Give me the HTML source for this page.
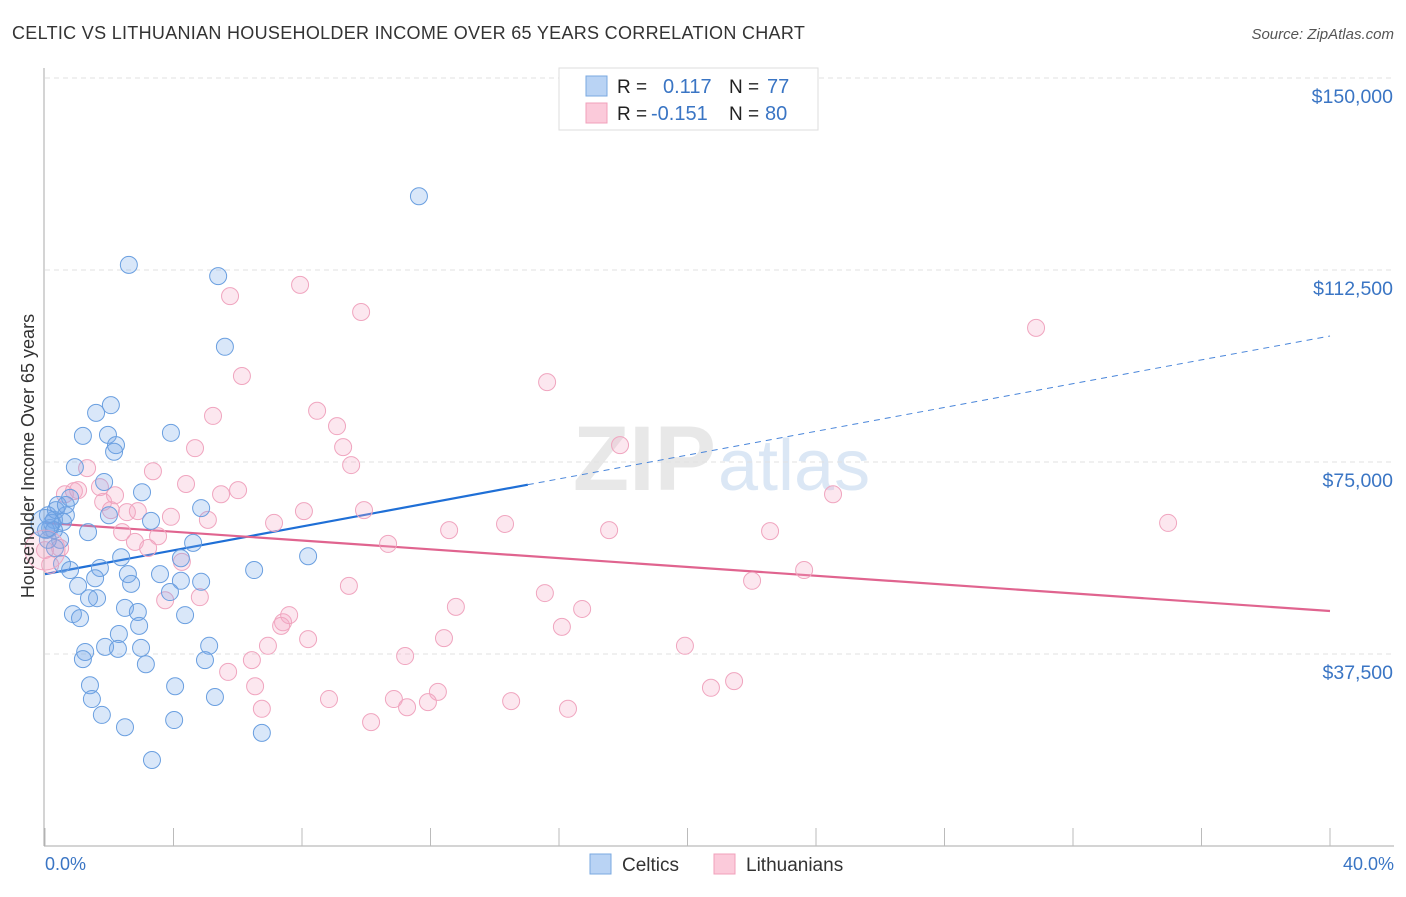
<!DOCTYPE html>
<html><head><meta charset="utf-8"><style>
body{margin:0;background:#fff;font-family:"Liberation Sans",sans-serif;}
svg text{font-family:"Liberation Sans",sans-serif;}
</style></head><body>
<svg id="chart" width="1406" height="892" xmlns="http://www.w3.org/2000/svg">
<text x="12" y="39" font-size="18" fill="#333" letter-spacing="0.3">CELTIC VS LITHUANIAN HOUSEHOLDER INCOME OVER 65 YEARS CORRELATION CHART</text>
<text x="1394" y="39" font-size="15" fill="#555" font-style="italic" text-anchor="end">Source: ZipAtlas.com</text>
<text x="716" y="490" font-size="92" fill="#e8e8e8" text-anchor="end" font-family="Liberation Serif" font-weight="bold">ZIP</text>
<text x="718" y="490" font-size="72" fill="#dbe7f5">atlas</text>
<g id="grid"></g><g id="axes"></g><g id="lines"></g><g id="points"></g>
<text transform="translate(34,456) rotate(-90)" font-size="18" fill="#333" text-anchor="middle">Householder Income Over 65 years</text>
<text x="45" y="870" font-size="18" fill="#3a75c4">0.0%</text>
<text x="1394" y="870" font-size="18" fill="#3a75c4" text-anchor="end">40.0%</text>
<g>
<rect x="559" y="68" width="259" height="62" fill="#fff" stroke="#ddd"/>
<rect x="586" y="76" width="21" height="20" fill="#b9d3f4" stroke="#7aa8e0"/>
<rect x="586" y="103" width="21" height="20" fill="#fbcada" stroke="#f0a0bb"/>
<text x="617" y="93" font-size="19" fill="#222">R =</text><text x="663" y="93" font-size="20" fill="#3a75c4">0.117</text>
<text x="729" y="93" font-size="19" fill="#222">N =</text><text x="767" y="93" font-size="20" fill="#3a75c4">77</text>
<text x="617" y="120" font-size="19" fill="#222">R =</text><text x="651" y="120" font-size="20" fill="#3a75c4">-0.151</text>
<text x="729" y="120" font-size="19" fill="#222">N =</text><text x="765" y="120" font-size="20" fill="#3a75c4">80</text>
</g>
<g>
<rect x="590" y="854" width="21" height="20" fill="#b9d3f4" stroke="#7aa8e0"/>
<text x="622" y="871" font-size="19" fill="#333">Celtics</text>
<rect x="714" y="854" width="21" height="20" fill="#fbcada" stroke="#f0a0bb"/>
<text x="746" y="871" font-size="19" fill="#333">Lithuanians</text>
</g>
</svg>
<script>
const yTicks=[37500,75000,112500,150000];
const yTickLabels=["$37,500","$75,000","$112,500","$150,000"];
const xTicks=[0,4,8,12,16,20,24,28,32,36,40];
const celticsX=[11.64,2.61,5.39,5.60,2.05,1.59,1.18,1.96,3.92,2.21,2.15,0.93,1.84,3.02,0.78,0.40,4.86,0.65,1.99,3.30,0.28,0.16,1.34,0.47,0.31,4.61,4.23,2.37,8.19,6.51,0.53,0.78,1.71,2.58,3.58,1.56,2.68,4.23,4.86,1.03,3.89,1.62,1.37,2.49,2.89,0.87,4.36,1.09,2.93,2.30,5.11,1.25,1.18,1.87,2.27,2.99,4.98,3.14,1.40,4.05,1.46,5.29,1.77,4.02,2.49,6.75,3.33,0.09,0.22,0.03,0.09,0.34,0.56,0.28,0.65];
const celticsY=[126.9,113.5,111.3,97.5,86.1,84.6,80.1,80.3,80.7,78.3,77.0,74.0,71.1,69.1,68.0,66.6,66.0,64.6,64.6,63.5,63.7,62.1,61.3,59.8,58.2,59.2,56.2,56.4,56.6,53.9,55.1,53.9,54.3,53.1,53.1,52.3,51.2,51.8,51.6,50.8,49.6,48.4,48.4,46.5,45.7,45.3,45.1,44.5,43.0,41.4,39.1,37.9,36.5,38.9,38.5,38.7,36.3,35.5,31.4,31.2,28.7,29.1,25.6,24.6,23.2,22.1,16.8,64.6,63.1,61.7,59.8,65.6,63.3,61.7,66.6];
const lithX=[30.85,5.76,7.94,9.84,15.63,6.13,5.23,8.47,9.09,9.28,9.53,4.67,17.90,3.36,4.39,6.01,1.31,1.71,1.03,0.62,0.90,2.18,1.81,2.55,5.07,5.48,3.92,2.05,2.89,9.93,8.06,24.53,34.96,14.32,12.58,17.56,22.57,7.13,2.40,3.52,2.80,3.21,10.68,4.26,22.01,23.63,9.46,15.56,12.79,16.72,16.09,3.74,4.82,7.41,7.60,7.35,8.19,6.94,12.42,11.21,19.92,6.44,5.70,6.54,8.84,10.86,12.23,11.92,14.51,11.27,10.15,6.75,16.28,20.73,21.45,0,0.47,0.16];
const lithY=[101.2,107.4,109.6,104.3,90.6,91.8,84.0,85.0,82.0,77.9,74.4,77.7,78.3,73.2,70.7,69.5,73.8,70.1,69.5,68.7,69.3,68.5,67.2,65.2,63.7,68.7,64.3,65.6,65.4,65.6,65.4,68.7,63.1,62.9,61.7,61.7,61.5,63.1,61.3,60.5,59.4,58.2,59.0,55.5,51.8,53.9,50.8,49.4,46.7,46.3,42.8,48.0,48.6,43.7,45.1,43.0,40.4,39.1,40.6,37.1,39.1,36.3,34.0,31.2,28.7,28.7,30.1,28.1,28.3,27.1,24.2,26.8,26.8,30.9,32.2,57.8,58.2,54.9];
const celticsTrend=[53.1,99.6];
const celticsSolidEnd=15.03;
const lithTrend=[63.1,45.9];
const NS="http://www.w3.org/2000/svg";
const xs=v=>45+v/40*1285;
const ys=v=>846-v/37.5*192;
function mk(tag,attrs,parent){const e=document.createElementNS(NS,tag);for(const k in attrs)e.setAttribute(k,attrs[k]);document.getElementById(parent).appendChild(e);return e;}
yTicks.forEach((t,i)=>{
  const y=ys(t/1000);
  const g=mk('line',{x1:45,x2:1394,y1:y,y2:y,stroke:'#e2e2e2','stroke-dasharray':'5,4'},'grid');
  
  
  const tx=mk('text',{x:1393,y:y+25,'font-size':19.5,fill:'#3a75c4','text-anchor':'end'},'grid');
  tx.textContent=yTickLabels[i];
  
  
});
const ax=mk('line',{x1:44,x2:44,y1:68,y2:846,stroke:'#aaa'},'axes');


const bx=mk('line',{x1:44,x2:1394,y1:846,y2:846,stroke:'#aaa'},'axes');


xTicks.forEach(t=>{
  const tk=mk('line',{x1:xs(t),x2:xs(t),y1:828,y2:846,stroke:'#bbb'},'axes');
  
  
});
function drawPts(X,Y,fill,stroke,name){
  X.forEach((x,i)=>{
    const c=mk('circle',{cx:xs(x),cy:ys(Y[i]),r:8.5,fill:fill,stroke:stroke,'stroke-width':1},'points');
    
    
  });
}
drawPts(lithX,lithY,'rgba(246,170,198,0.28)','#f0a5bf','lithuanian-point');
drawPts(celticsX,celticsY,'rgba(120,170,235,0.28)','#6a9fe0','celtic-point');
const bigP=mk('circle',{cx:xs(0),cy:ys(57.8),r:20,fill:'rgba(246,170,198,0.22)',stroke:'#f0a5bf'},'points');


const bigB=mk('circle',{cx:xs(0),cy:ys(63),r:14,fill:'rgba(120,170,235,0.28)',stroke:'#6a9fe0'},'points');


const bAt=x=>celticsTrend[0]+(celticsTrend[1]-celticsTrend[0])*x/40;
const l1=mk('line',{x1:xs(0),y1:ys(bAt(0)),x2:xs(celticsSolidEnd),y2:ys(bAt(celticsSolidEnd)),stroke:'#1f6fd6','stroke-width':2.2},'lines');


const l2=mk('line',{x1:xs(celticsSolidEnd),y1:ys(bAt(celticsSolidEnd)),x2:xs(40),y2:ys(bAt(40)),stroke:'#4a86da','stroke-width':1,'stroke-dasharray':'6,5'},'lines');


const l3=mk('line',{x1:xs(0),y1:ys(lithTrend[0]),x2:xs(40),y2:ys(lithTrend[1]),stroke:'#e0648f','stroke-width':2.2},'lines');


</script>
</body></html>
